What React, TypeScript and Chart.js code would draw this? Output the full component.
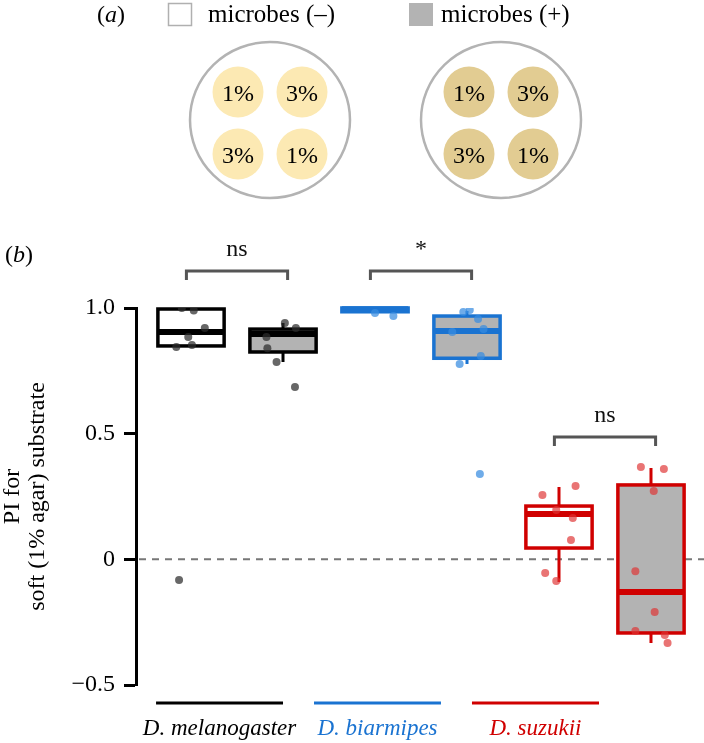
import React, { useEffect, useRef } from 'react';
import { Chart, registerables } from 'chart.js';

Chart.register(...registerables);

// ---------- data ----------
const speciesLabels = ['D. melanogaster', 'D. biarmipes', 'D. suzukii'];
const speciesColors = ['#000000', '#1a73d1', '#d00000'];
const pointColors = ['rgba(45,45,45,0.72)', 'rgba(55,140,225,0.72)', 'rgba(222,50,50,0.68)'];

// six boxes: species x microbes (−, +)
const boxPositions = [1, 2, 3, 4, 5, 6];
const boxSpecies = [0, 0, 1, 1, 2, 2];
const boxMicrobes = ['-', '+', '-', '+', '-', '+'];
const boxQ1 = [0.849, 0.825, 0.985, 0.8, 0.045, -0.293];
const boxMedian = [0.905, 0.897, 0.995, 0.908, 0.18, -0.13];
const boxQ3 = [0.996, 0.916, 1.0, 0.968, 0.212, 0.296];
const whiskerLo = [0.849, 0.785, 0.985, 0.777, -0.09, -0.333];
const whiskerHi = [0.996, 0.94, 1.0, 0.988, 0.288, 0.363];

// individual observations: jitter offset (category units) and PI value
const pointJitter = [
  [-0.1, 0.03, 0.15, -0.03, -0.16, 0.01, -0.13],
  [0.02, 0.14, -0.18, -0.17, -0.07, 0.13],
  [0.0, 0.2],
  [-0.04, 0.03, 0.12, -0.16, 0.18, 0.15, -0.08, 0.14],
  [-0.18, 0.18, -0.03, 0.15, 0.13, -0.15, -0.03],
  [-0.11, 0.14, 0.03, -0.17, 0.04, -0.17, 0.15, 0.18],
];
const pointValues = [
  [1.0, 0.99, 0.92, 0.885, 0.845, 0.853, -0.082],
  [0.94, 0.92, 0.885, 0.84, 0.785, 0.686],
  [0.98, 0.968],
  [0.984, 0.992, 0.956, 0.905, 0.916, 0.809, 0.777, 0.34],
  [0.256, 0.292, 0.196, 0.164, 0.077, -0.054, -0.086],
  [0.367, 0.359, 0.272, -0.047, -0.21, -0.285, -0.301, -0.333],
];

// significance comparisons
const compLeft = [1, 3, 5];
const compRight = [2, 4, 6];
const compLabels = ['ns', '*', 'ns'];
const compLevel = [1.147, 1.147, 0.487];

// species underline spans (category units)
const speciesSpanStart = [0.62, 2.337, 4.054];
const speciesSpanEnd = [2.0, 3.717, 5.435];

const yTicks = [-0.5, 0, 0.5, 1.0];
const yTickLabels = ['\u22120.5', '0', '0.5', '1.0'];
const yTitle = ['PI for', 'soft (1% agar) substrate'];

const legendLabels = ['microbes (–)', 'microbes (+)'];
const dishLabels = [
  ['1%', '3%', '3%', '1%'],
  ['1%', '3%', '3%', '1%'],
];

const SERIF = '"Liberation Serif", Tinos, "Times New Roman", Times, serif';

const boxPlugin = {
  id: 'boxPlot',
  beforeDatasetsDraw(chart: any) {
    const { ctx, chartArea } = chart;
    const x = chart.scales.x;
    const y = chart.scales.y;
    ctx.save();
    // zero reference line
    const y0 = y.getPixelForValue(0);
    ctx.setLineDash([7, 6]);
    ctx.strokeStyle = '#777777';
    ctx.lineWidth = 2;
    ctx.beginPath();
    ctx.moveTo(chartArea.left + 3, y0);
    ctx.lineTo(chart.width, y0);
    ctx.stroke();
    ctx.setLineDash([]);

    const halfW = 0.36;
    boxPositions.forEach((pos, i) => {
      const color = speciesColors[boxSpecies[i]];
      const xc = x.getPixelForValue(pos);
      const xl = x.getPixelForValue(pos - halfW);
      const xr = x.getPixelForValue(pos + halfW);
      const pq1 = y.getPixelForValue(boxQ1[i]);
      const pq3 = y.getPixelForValue(boxQ3[i]);
      const pmed = y.getPixelForValue(boxMedian[i]);
      const pLo = y.getPixelForValue(whiskerLo[i]);
      const pHi = y.getPixelForValue(whiskerHi[i]);
      ctx.strokeStyle = color;
      ctx.lineCap = 'butt';
      // whiskers
      ctx.lineWidth = 3;
      ctx.beginPath();
      ctx.moveTo(xc, pq1);
      ctx.lineTo(xc, pLo);
      ctx.moveTo(xc, pq3);
      ctx.lineTo(xc, pHi);
      ctx.stroke();
      // box
      ctx.fillStyle = boxMicrobes[i] === '+' ? '#b3b3b3' : '#ffffff';
      ctx.fillRect(xl, pq3, xr - xl, pq1 - pq3);
      ctx.lineWidth = 3.5;
      ctx.strokeRect(xl, pq3, xr - xl, pq1 - pq3);
      // median
      ctx.lineWidth = 6;
      ctx.beginPath();
      ctx.moveTo(xl, pmed);
      ctx.lineTo(xr, pmed);
      ctx.stroke();
    });
    ctx.restore();
  },
  afterDraw(chart: any) {
    const { ctx, chartArea } = chart;
    const x = chart.scales.x;
    const y = chart.scales.y;
    ctx.save();
    // significance brackets
    compLeft.forEach((l, i) => {
      const x1 = x.getPixelForValue(l - 0.05);
      const x2 = x.getPixelForValue(compRight[i] + 0.05);
      const py = y.getPixelForValue(compLevel[i]);
      ctx.strokeStyle = '#555555';
      ctx.lineWidth = 3;
      ctx.lineJoin = 'miter';
      ctx.beginPath();
      ctx.moveTo(x1, py + 9);
      ctx.lineTo(x1, py);
      ctx.lineTo(x2, py);
      ctx.lineTo(x2, py + 9);
      ctx.stroke();
      ctx.fillStyle = '#111111';
      ctx.font = `24px ${SERIF}`;
      ctx.textAlign = 'center';
      ctx.textBaseline = 'alphabetic';
      ctx.fillText(compLabels[i], (x1 + x2) / 2, py - 15);
    });
    // species underlines and names
    speciesLabels.forEach((name, i) => {
      const x1 = x.getPixelForValue(speciesSpanStart[i]);
      const x2 = x.getPixelForValue(speciesSpanEnd[i]);
      const ly = chartArea.bottom + 18;
      ctx.strokeStyle = speciesColors[i];
      ctx.lineWidth = 3;
      ctx.beginPath();
      ctx.moveTo(x1, ly);
      ctx.lineTo(x2, ly);
      ctx.stroke();
      ctx.fillStyle = speciesColors[i];
      ctx.font = `italic 23px ${SERIF}`;
      ctx.textAlign = 'center';
      ctx.textBaseline = 'middle';
      ctx.fillText(name, (x1 + x2) / 2, chartArea.bottom + 44);
    });
    ctx.restore();
  },
};

export default function App() {
  const canvasRef = useRef<HTMLCanvasElement | null>(null);

  useEffect(() => {
    if (!canvasRef.current) return;
    const datasets = boxPositions.map((pos, i) => ({
      type: 'scatter' as const,
      data: pointValues[i].map((v, j) => ({ x: pos + pointJitter[i][j], y: v })),
      backgroundColor: pointColors[boxSpecies[i]],
      borderWidth: 0,
      pointRadius: 4,
      pointHoverRadius: 4,
    }));
    const chart = new Chart(canvasRef.current, {
      type: 'scatter',
      data: { datasets },
      options: {
        animation: false,
        responsive: false,
        devicePixelRatio: 1,
        layout: { padding: { top: 308, bottom: 58, left: 0, right: 14 } },
        plugins: { legend: { display: false }, tooltip: { enabled: false } },
        scales: {
          x: { type: 'linear', min: 0.402, max: 6.424, display: false },
          y: {
            type: 'linear',
            min: -0.5,
            max: 1.0,
            afterFit: (scale: any) => {
              scale.width = 136;
            },
            ticks: {
              stepSize: 0.5,
              padding: 9,
              color: '#000000',
              font: { family: SERIF, size: 24 },
              callback: (v: any) => {
                const idx = yTicks.findIndex((t) => Math.abs(t - Number(v)) < 1e-9);
                return idx >= 0 ? yTickLabels[idx] : '';
              },
            },
            grid: {
              display: true,
              drawOnChartArea: false,
              drawTicks: true,
              tickLength: 12,
              tickWidth: 3,
              tickColor: '#000000',
            },
            border: { display: true, color: '#000000', width: 3 },
            title: {
              display: true,
              text: yTitle,
              color: '#000000',
              font: { family: SERIF, size: 24, lineHeight: 1.05 },
              padding: { top: 0, bottom: 0 },
            },
          },
        },
      },
      plugins: [boxPlugin],
    } as any);
    return () => chart.destroy();
  }, []);

  const dishCenters = [270, 501];
  const innerDx = [-32, 32, -32, 32];
  const innerDy = [-28, -28, 34, 34];
  const dishFill = ['#fce9b3', '#e2cc92'];

  return (
    <div style={{ position: 'absolute', left: 0, top: 0, width: 704, height: 743, background: '#fff' }}>
      <canvas ref={canvasRef} width={704} height={743} style={{ position: 'absolute', left: 0, top: 0 }} />
      <svg
        width={704}
        height={743}
        style={{ position: 'absolute', left: 0, top: 0, pointerEvents: 'none' }}
        fontFamily={SERIF}
      >
        <text x={97} y={22} fontSize={24} fill="#000">
          (<tspan fontStyle="italic">a</tspan>)
        </text>
        <rect x={168.5} y={3.5} width={23} height={22} fill="#fff" stroke="#b0b0b0" strokeWidth={1.5} />
        <text x={208} y={22} fontSize={25} fill="#000">{legendLabels[0]}</text>
        <rect x={409} y={3} width={24} height={23} fill="#b3b3b3" />
        <text x={441} y={22} fontSize={25} fill="#000">{legendLabels[1]}</text>
        {dishCenters.map((cx, d) => (
          <g key={d}>
            <ellipse cx={cx} cy={120} rx={80} ry={78} fill="none" stroke="#b3b3b3" strokeWidth={2.5} />
            {dishLabels[d].map((lab, k) => (
              <g key={k}>
                <ellipse cx={cx + innerDx[k]} cy={120 + innerDy[k]} rx={25.5} ry={25.5} fill={dishFill[d]} />
                <text x={cx + innerDx[k]} y={120 + innerDy[k] + 9} fontSize={24} textAnchor="middle" fill="#000">
                  {lab}
                </text>
              </g>
            ))}
          </g>
        ))}
        <text x={5} y={262} fontSize={24} fill="#000">
          (<tspan fontStyle="italic">b</tspan>)
        </text>
      </svg>
    </div>
  );
}
